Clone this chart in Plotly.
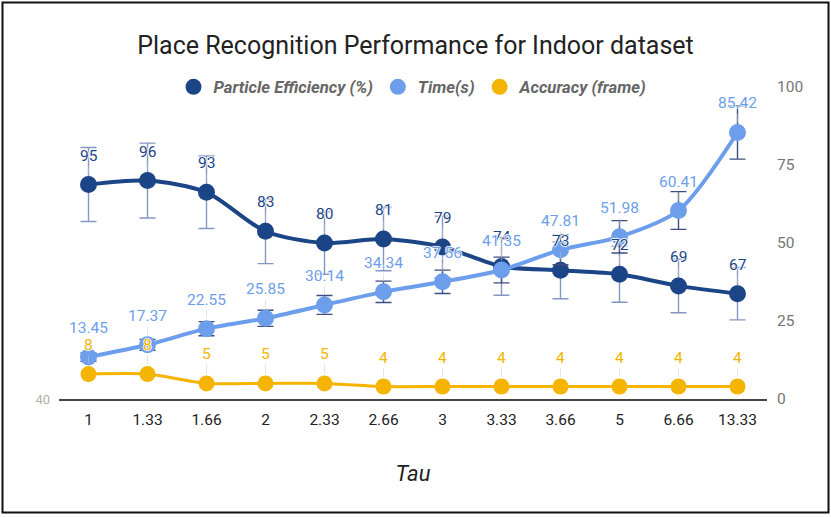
import plotly.graph_objects as go

# ---- data ----
tau = ["1", "1.33", "1.66", "2", "2.33", "2.66", "3", "3.33", "3.66", "5", "6.66", "13.33"]
particle_eff = [95, 96, 93, 83, 80, 81, 79, 74, 73, 72, 69, 67]
time_s = [13.45, 17.37, 22.55, 25.85, 30.14, 34.34, 37.56, 41.35, 47.81, 51.98, 60.41, 85.42]
accuracy = [8, 8, 5, 5, 5, 4, 4, 4, 4, 4, 4, 4]
right_ticks = [0, 25, 50, 75, 100]
left_ticks = [40]

C_EFF = "#1c4587"
C_TIME = "#6d9eeb"
C_ACC = "#f4b400"
FONT = "Roboto"
HALO = "1px 0 1px white, -1px 0 1px white, 0 1px 1px white, 0 -1px 1px white"

fig = go.Figure()

fig.add_trace(go.Scatter(
    x=tau, y=accuracy, yaxis="y2", mode="lines+markers", showlegend=False,
    line=dict(color=C_ACC, width=3, shape="spline", smoothing=0.6),
    marker=dict(color=C_ACC, size=16),
))
fig.add_trace(go.Scatter(
    x=tau, y=particle_eff, yaxis="y", mode="lines+markers", showlegend=False,
    line=dict(color=C_EFF, width=4, shape="spline", smoothing=0.8),
    marker=dict(color=C_EFF, size=17),
    error_y=dict(type="percent", value=10, color="#8497c2", thickness=1.4, width=8),
))
fig.add_trace(go.Scatter(
    x=tau, y=time_s, yaxis="y2", mode="lines+markers", showlegend=False,
    line=dict(color=C_TIME, width=4, shape="spline", smoothing=0.8),
    marker=dict(color=C_TIME, size=17),
    error_y=dict(type="percent", value=10, color="#3b4f7e", thickness=1.4, width=8),
))

# legend-only entries
for name, col in [("Particle Efficiency (%)", C_EFF), ("Time(s)", C_TIME), ("Accuracy (frame)", C_ACC)]:
    fig.add_trace(go.Scatter(x=[None], y=[None], mode="markers", name=name,
                             marker=dict(color=col, size=16)))

# data labels (positioned by category index)
annotations = []
def add_labels(ys, texts, yref, color):
    for i, (y, t) in enumerate(zip(ys, texts)):
        annotations.append(dict(
            x=i, y=y, xref="x", yref=yref, text=t, showarrow=True,
            ax=0, ay=-29, axref="pixel", ayref="pixel",
            arrowhead=0, arrowwidth=1, arrowcolor="rgba(200,200,200,0.5)", standoff=10,
            font=dict(family=FONT, size=15.5, color=color, shadow=HALO),
        ))

add_labels(particle_eff, [str(v) for v in particle_eff], "y", C_EFF)
add_labels(time_s, [f"{v:.2f}" for v in time_s], "y2", C_TIME)
add_labels(accuracy, [str(v) for v in accuracy], "y2", C_ACC)

W, H = 831, 517
ML, MR, MT, MB = 59, 64, 87, 118
PW, PH = W - ML - MR, H - MT - MB

def px(xp):
    return (xp - ML) / PW

def py(yp):
    return (H - MB - yp) / PH

fig.update_layout(
    width=W, height=H,
    margin=dict(l=ML, r=MR, t=MT, b=MB, autoexpand=False),
    paper_bgcolor="white", plot_bgcolor="white",
    font=dict(family=FONT, color="#222222"),
    title=dict(text="Place Recognition Performance for Indoor dataset",
               x=0.5, xanchor="center", y=1 - 45 / H, yanchor="middle", yref="container",
               font=dict(family=FONT, size=25, color="#222222")),
    legend=dict(orientation="h", x=0.5, xanchor="center", y=1.0, yanchor="middle",
                font=dict(family=FONT, size=16.7, color="#666666", style="italic", weight="bold"),
                bgcolor="rgba(0,0,0,0)", itemsizing="trace"),
    xaxis=dict(type="category", range=[-0.5, len(tau) - 0.5], showgrid=False, zeroline=False,
               showline=True, linecolor="#444444", linewidth=1.5, ticks="", ticklabelstandoff=6,
               tickfont=dict(family=FONT, size=15.5, color="#222222"),
               title=dict(text="Tau", standoff=37,
                          font=dict(family=FONT, size=22, color="#222222", style="italic"))),
    yaxis=dict(range=[40, 120], tickvals=left_ticks, showgrid=False, zeroline=False,
               showline=False, ticks="", ticklabelstandoff=8,
               tickfont=dict(family=FONT, size=13, color="#b0b0b0")),
    yaxis2=dict(range=[0, 100], tickvals=right_ticks, overlaying="y", side="right",
                showgrid=False, zeroline=False, showline=False, ticks="", ticklabelstandoff=9,
                tickfont=dict(family=FONT, size=15.5, color="#757575")),
    annotations=annotations,
    shapes=[dict(type="rect", xref="paper", yref="paper",
                 x0=px(2.5), x1=px(828.5), y0=py(512.5), y1=py(2.5),
                 line=dict(color="#111111", width=2), fillcolor="rgba(0,0,0,0)", layer="above")],
)

fig.write_html("out.html", config={"displayModeBar": False},
               post_script="document.body.style.margin='0';document.body.style.overflow='hidden';")
